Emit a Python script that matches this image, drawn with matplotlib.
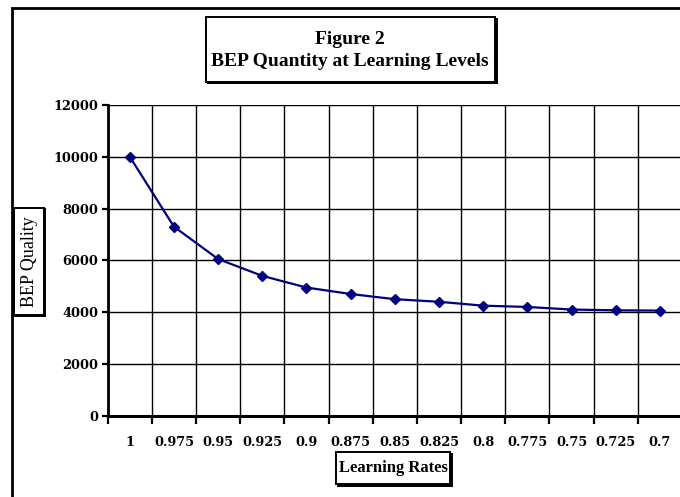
import matplotlib
matplotlib.use("Agg")
import matplotlib.pyplot as plt
from matplotlib.patches import Rectangle
from matplotlib.ticker import FixedLocator, NullFormatter

# ---- data ----
learning_rates = ["1", "0.975", "0.95", "0.925", "0.9", "0.875", "0.85",
                  "0.825", "0.8", "0.775", "0.75", "0.725", "0.7"]
bep_quantity = [10000, 7300, 6050, 5400, 4950, 4700, 4500,
                4400, 4250, 4200, 4100, 4070, 4060]
y_ticks = [0, 2000, 4000, 6000, 8000, 10000, 12000]
title_lines = ["Figure 2", "BEP Quantity at Learning Levels"]
x_label = "Learning Rates"
y_label = "BEP Quality"

W, H = 680, 497
fig = plt.figure(figsize=(W / 100, H / 100), dpi=100)
fig.patch.set_facecolor("white")

def fx(px):
    return px / W

def fy(py):
    return 1 - py / H

# axes placement (pixels)
ax_left, ax_right, ax_top, ax_bottom = 107.7, 682.0, 105.0, 415.7
ax = fig.add_axes([fx(ax_left), fy(ax_bottom), fx(ax_right - ax_left),
                   (ax_bottom - ax_top) / H])

n = len(learning_rates)
xs = list(range(n))
ax.plot(xs, bep_quantity, color="#000080", linewidth=1.6, marker="D",
        markersize=5.2, markerfacecolor="#000080", markeredgecolor="#000080",
        zorder=5, clip_on=False)

ax.set_xlim(-0.5, n - 0.5)
ax.set_ylim(0, 12000)

tick_font = dict(family=["DejaVu Serif"], weight="bold", size=9.3)

ax.set_xticks(xs)
ax.set_xticklabels(learning_rates, fontdict=tick_font)
ax.xaxis.set_minor_locator(FixedLocator([i - 0.5 for i in range(n + 1)]))
ax.xaxis.set_minor_formatter(NullFormatter())
ax.tick_params(axis="x", which="major", length=0, pad=14.5)
ax.tick_params(axis="x", which="minor", length=5.5, width=1.6, direction="out",
               color="black")

ax.set_yticks(y_ticks)
ax.set_yticklabels([str(v) for v in y_ticks], fontdict=tick_font)
ax.tick_params(axis="y", which="major", length=4.5, width=1.6, pad=2.5,
               direction="out", color="black")

ax.grid(True, axis="x", which="minor", color="black", linewidth=1.0)
ax.grid(True, axis="y", which="major", color="black", linewidth=1.0)
ax.grid(False, axis="x", which="major")
ax.set_axisbelow(True)

for side in ["top", "right"]:
    ax.spines[side].set_visible(False)
ax.spines["left"].set_linewidth(2.0)
ax.spines["bottom"].set_linewidth(2.2)

# outer frame (cropped at right/bottom)
fig.patches.append(Rectangle((fx(12), fy(520)), fx(700), (520 - 7.5) / H,
                             transform=fig.transFigure, fill=False,
                             edgecolor="black", linewidth=2.0, zorder=0))

def boxed(x0, y0, x1, y1, shadow=2.0, lw=1.4):
    # shadow
    fig.patches.append(Rectangle((fx(x0 + shadow), fy(y1 + shadow)),
                                 fx(x1 - x0), (y1 - y0) / H,
                                 transform=fig.transFigure, facecolor="black",
                                 edgecolor="black", linewidth=lw, zorder=1))
    fig.patches.append(Rectangle((fx(x0), fy(y1)), fx(x1 - x0), (y1 - y0) / H,
                                 transform=fig.transFigure, facecolor="white",
                                 edgecolor="black", linewidth=lw, zorder=2))

# title box
boxed(206, 17, 494.5, 81.5)
fig.text(fx(350), fy(39), title_lines[0], ha="center", va="center",
         family=["Liberation Serif"], weight="bold", size=14)
fig.text(fx(350), fy(61), title_lines[1], ha="center", va="center",
         family=["Liberation Serif"], weight="bold", size=14)

# x label box
boxed(336, 452, 450, 484)
fig.text(fx(393), fy(468), x_label, ha="center", va="center",
         family=["Liberation Serif"], weight="bold", size=12)

# y label box
boxed(14, 208, 43.5, 315, shadow=1.0)
fig.text(fx(29), fy(261.5), y_label, ha="center", va="center", rotation=90,
         family=["Liberation Serif"], size=13)

fig.savefig("out.png", dpi=100, facecolor="white")
